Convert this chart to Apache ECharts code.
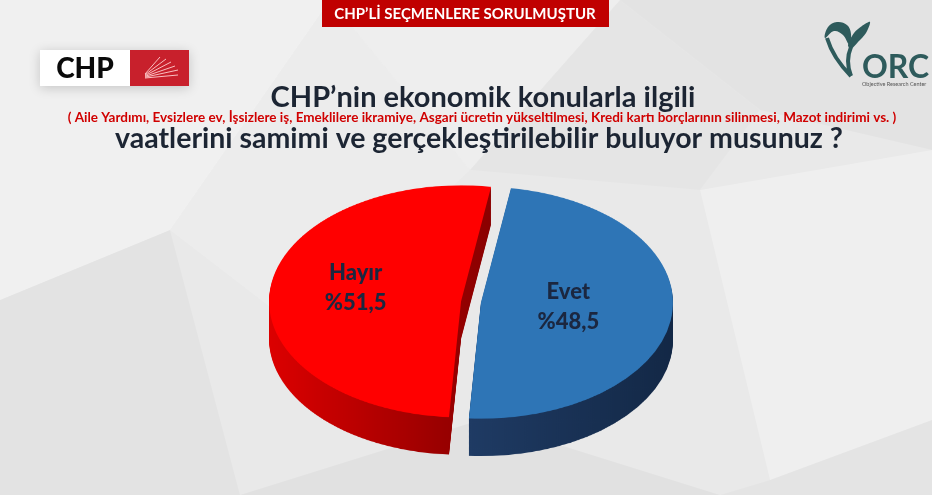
<!DOCTYPE html>
<html>
<head>
<meta charset="utf-8">
<script src="https://cdn.jsdelivr.net/npm/echarts@6/dist/echarts.min.js"></script>
<style>
  html, body { margin:0; padding:0; width:932px; height:495px; overflow:hidden; background:#ececec; }
  #bg { position:absolute; left:0; top:0; width:932px; height:495px; }
  #pie { position:absolute; left:0; top:0; width:932px; height:700px; transform-origin:471px 302px; transform:scaleY(0.604); }
  #lab { position:absolute; left:0; top:0; width:932px; height:495px; }
</style>
</head>
<body>
<div id="bg"></div>
<div id="pie"></div>
<div id="lab"></div>
<script>
// ---- data ----
const categories = ['Evet', 'Hayır'];
const values = [48.5, 51.5];
const bannerText = 'CHP’Lİ SEÇMENLERE SORULMUŞTUR';
const titleLine1 = 'CHP’nin ekonomik konularla ilgili';
const titleNote = '( Aile Yardımı, Evsizlere ev, İşsizlere iş, Emeklilere ikramiye, Asgari ücretin yükseltilmesi, Kredi kartı borçlarının silinmesi, Mazot indirimi vs. )';
const titleLine2 = 'vaatlerini samimi ve gerçekleştirilebilir buluyor musunuz ?';

// ---- styles ----
const topColors = ['#2e75b6', '#ff0000'];
const sideColors = [
  { type:'linear', x:0, y:0, x2:1, y2:0, colorStops:[{offset:0, color:'#1f3b64'}, {offset:1, color:'#132846'}] },
  { type:'linear', x:0, y:0, x2:1, y2:0, colorStops:[{offset:0, color:'#dc0000'}, {offset:0.8, color:'#980000'}, {offset:1, color:'#8a0000'}] }
];
const labelShift = [[-11, -7], [-7, -2]];
const FONT = 'Lato, "Open Sans", sans-serif';
const CX = 471, CY = 302, R = 192, DEPTH = 62, STEP = 2, OFFSET = 10, START = 81;

// ---- background / titles ----
const bg = echarts.init(document.getElementById('bg'));
const polys = [
  [[[0,0],[330,0],[170,230],[0,300]], 'rgba(255,255,255,0.35)'],
  [[[330,0],[620,0],[470,170]], 'rgba(255,255,255,0.22)'],
  [[[620,0],[932,0],[932,150],[760,110]], 'rgba(0,0,0,0.025)'],
  [[[170,230],[330,0],[470,170],[300,330]], 'rgba(255,255,255,0.15)'],
  [[[0,300],[170,230],[240,495],[0,495]], 'rgba(0,0,0,0.025)'],
  [[[700,190],[932,150],[932,420],[770,480]], 'rgba(255,255,255,0.28)'],
  [[[240,495],[480,420],[720,495]], 'rgba(0,0,0,0.03)'],
  [[[620,0],[760,110],[700,190],[470,170]], 'rgba(0,0,0,0.015)'],
  [[[720,495],[770,480],[932,420],[932,495]], 'rgba(0,0,0,0.02)']
];
const rays = [[160,57],[166,59],[171,62],[175,66],[178,70],[178,75]];
const graphics = [];
polys.forEach(p => graphics.push({ type:'polygon', shape:{ points:p[0] }, style:{ fill:p[1] }, silent:true }));
// banner
graphics.push({ type:'rect', shape:{ x:322, y:0, width:287, height:27 }, style:{ fill:'#c00000' } });
graphics.push({ type:'text', x:465, y:14, style:{ text:bannerText, fill:'#fff', font:'bold 15px ' + FONT, align:'center', verticalAlign:'middle' } });
// CHP logo
graphics.push({ type:'rect', shape:{ x:40, y:50, width:149, height:36 }, style:{ fill:'#fff', shadowBlur:12, shadowColor:'rgba(0,0,0,0.18)', shadowOffsetY:2 } });
graphics.push({ type:'rect', shape:{ x:130, y:50, width:59, height:36 }, style:{ fill:'#c8202c' } });
graphics.push({ type:'text', x:85, y:69, style:{ text:'CHP', fill:'#0a0a0a', font:'900 28px ' + FONT, align:'center', verticalAlign:'middle' } });
rays.forEach((e, i) => graphics.push({ type:'line', shape:{ x1:145, y1:74 + i * 0.8, x2:e[0], y2:e[1] }, style:{ stroke:'#ffd0d0', lineWidth:0.9 } }));
// ORC logo
const teal = '#2e5b5c';
graphics.push({ type:'polygon', shape:{ points:[[825,38],[828,27],[837,22],[847,25],[851,34],[849,44],[843,35],[834,31]], smooth:0.4 }, style:{ fill:teal } });
graphics.push({ type:'polygon', shape:{ points:[[848,45],[854,33],[862,26],[870,22],[866,33],[858,42],[851,49]], smooth:0.3 }, style:{ fill:teal } });
graphics.push({ type:'bezierCurve', shape:{ x1:827, y1:38, cpx1:833, cpy1:58, x2:851, y2:76 }, style:{ stroke:teal, lineWidth:4, fill:null } });
graphics.push({ type:'bezierCurve', shape:{ x1:851, y1:47, cpx1:845, cpy1:61, x2:851, y2:76 }, style:{ stroke:teal, lineWidth:4, fill:null } });
graphics.push({ type:'text', x:862, y:68, style:{ text:'ORC', fill:teal, font:'bold 32px ' + FONT, align:'left', verticalAlign:'middle' } });
graphics.push({ type:'text', x:862, y:84, style:{ text:'Objective Research Center', fill:'#555', font:'5.5px ' + FONT, align:'left', verticalAlign:'middle' } });
// titles
graphics.push({ type:'text', x:483, y:98, style:{ text:titleLine1, fill:'#1c2533', font:'bold 29px ' + FONT, align:'center', verticalAlign:'middle' } });
graphics.push({ type:'text', x:482, y:118, style:{ text:titleNote, fill:'#d00000', font:'bold 13.5px ' + FONT, align:'center', verticalAlign:'middle' } });
graphics.push({ type:'text', x:479, y:139, style:{ text:titleLine2, fill:'#1c2533', font:'bold 28.5px ' + FONT, align:'center', verticalAlign:'middle' } });

bg.setOption({ backgroundColor:'#e9e9e9', animation:false, graphic:{ elements:graphics } });

// ---- pie (scaled to an ellipse with depth layers) ----
function makePie(cy, colors, extra) {
  return Object.assign({
    type:'pie', center:[CX, cy], radius:[0, R], startAngle:START, clockwise:true,
    selectedMode:'multiple', selectedOffset:OFFSET, silent:true, animation:false,
    avoidLabelOverlap:false, padAngle:0, minAngle:0,
    label:{ show:false }, labelLine:{ show:false }, emphasis:{ disabled:true },
    itemStyle:{ borderWidth:0 },
    data: categories.map((c, i) => ({ name:c, value:values[i], selected:true, itemStyle:{ color:colors[i], borderWidth:0 } }))
  }, extra || {});
}
const pieSeries = [];
for (let d = DEPTH; d > 0; d -= STEP) pieSeries.push(makePie(CY + d, sideColors));
pieSeries.push(makePie(CY, topColors));
const pie = echarts.init(document.getElementById('pie'));
pie.setOption({ animation:false, series:pieSeries });

// ---- labels overlay ----
const lab = echarts.init(document.getElementById('lab'));
lab.setOption({
  animation:false,
  series:[makePie(CY, ['rgba(0,0,0,0)', 'rgba(0,0,0,0)'], {
    label:{
      show:true, position:'inside', color:'#1b2740', fontFamily:FONT, fontWeight:900, fontSize:22, lineHeight:30,
      formatter: p => p.name + '\n%' + String(p.value).replace('.', ',')
    },
    labelLayout: p => ({ dx: labelShift[p.dataIndex][0], dy: labelShift[p.dataIndex][1] })
  })]
});
</script>
</body>
</html>
